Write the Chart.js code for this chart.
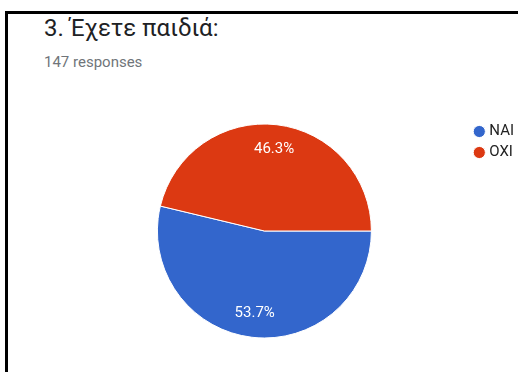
<!DOCTYPE html>
<html>
<head>
<meta charset="utf-8">
<script src="https://cdn.jsdelivr.net/npm/chart.js@4.4.0/dist/chart.umd.min.js"></script>
<style>
  html, body { margin: 0; padding: 0; background: #fff; overflow: hidden; }
  body { width: 518px; height: 372px; position: relative; font-family: Roboto, Arial, sans-serif; }
  .frame { position: absolute; left: 5px; top: 11px; width: 600px; height: 400px;
           border-top: 3px solid #000; border-left: 3px solid #000; }
  .title { position: absolute; left: 44px; top: 16px; font-size: 24px; line-height: 24px; color: #202124; white-space: nowrap; }
  .sub { position: absolute; left: 44px; top: 55px; font-size: 15px; line-height: 15px; color: #70757a; white-space: nowrap; }
  .wrap { position: absolute; left: 0; top: 0; width: 524px; height: 372px; }
</style>
</head>
<body>
<div class="frame"></div>
<div class="title">3. Έχετε παιδιά:</div>
<div class="sub">147 responses</div>
<div class="wrap"><canvas id="pie"></canvas></div>
<script>
  const categories = ["NAI", "OXI"];
  const responses = [79, 68];
  const sliceColors = ["#3366cc", "#dc3912"];

  // percentages written inside the slices
  const pctLabels = {
    id: "pctLabels",
    afterDatasetsDraw(chart) {
      const ctx = chart.ctx;
      const meta = chart.getDatasetMeta(0);
      const total = responses.reduce((a, b) => a + b, 0);
      ctx.save();
      ctx.fillStyle = "#fff";
      ctx.font = "15px Roboto";
      ctx.textAlign = "center";
      ctx.textBaseline = "middle";
      meta.data.forEach((arc, i) => {
        const p = arc.getProps(["x", "y", "startAngle", "endAngle", "outerRadius"], true);
        const mid = (p.startAngle + p.endAngle) / 2;
        const r = p.outerRadius * 0.77;
        const txt = (responses[i] / total * 100).toFixed(1) + "%";
        ctx.fillText(txt, p.x + Math.cos(mid) * r, p.y + Math.sin(mid) * r);
      });
      ctx.restore();
    },
  };

  new Chart(document.getElementById("pie"), {
    type: "pie",
    data: {
      labels: categories,
      datasets: [
        {
          data: responses,
          backgroundColor: sliceColors,
          borderColor: "#fff",
          borderWidth: 1,
        },
      ],
    },
    options: {
      responsive: true,
      maintainAspectRatio: false,
      animation: false,
      rotation: 90,
      radius: 107,
      layout: {
        padding: { left: 58, top: 118, bottom: 28, right: 0 },
      },
      plugins: {
        tooltip: { enabled: false },
        legend: {
          position: "right",
          align: "start",
          labels: {
            usePointStyle: true,
            pointStyle: "circle",
            boxWidth: 5,
            boxHeight: 8.6,
            padding: 6,
            color: "#222",
            font: { family: "Roboto", size: 15 },
          },
        },
      },
    },
    plugins: [pctLabels],
  });
</script>
</body>
</html>
